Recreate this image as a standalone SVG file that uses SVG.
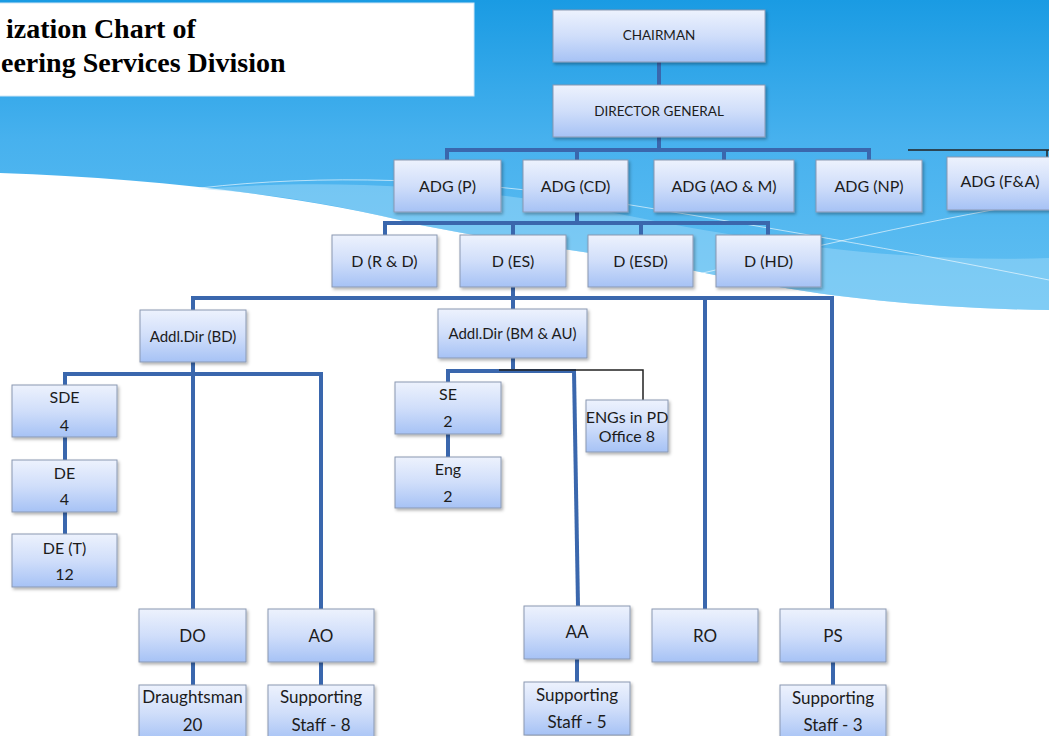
<svg xmlns="http://www.w3.org/2000/svg" width="1049" height="736" viewBox="0 0 1049 736">
<defs>
<linearGradient id="sky" x1="0" y1="0" x2="0" y2="310" gradientUnits="userSpaceOnUse">
<stop offset="0" stop-color="#1a9be3"/>
<stop offset="0.45" stop-color="#47b1ee"/>
<stop offset="1" stop-color="#62c0f2"/>
</linearGradient>
<linearGradient id="boxg" x1="0" y1="0" x2="0" y2="1">
<stop offset="0" stop-color="#edf2fd"/>
<stop offset="0.5" stop-color="#d0defa"/>
<stop offset="1" stop-color="#a6c2f5"/>
</linearGradient>
<filter id="sh" x="-10%" y="-10%" width="130%" height="140%">
<feDropShadow dx="1.5" dy="2" stdDeviation="1.5" flood-color="#000" flood-opacity="0.3"/>
</filter>
<style>
.box{fill:url(#boxg);stroke:#8a98b2;stroke-width:1;filter:url(#sh)}
text{font-family:Lato,"Noto Sans",sans-serif;fill:#1c1c1c;text-anchor:middle}
.s14{font-size:13.5px}
.s16{font-size:16px}
.s15{font-size:15px}
.s17{font-size:17px}
.c{fill:none;stroke:#3a67ad;stroke-width:4}
.k{fill:none;stroke:#222;stroke-width:1.5}
.title{font-family:"Liberation Serif",serif;font-weight:bold;font-size:28px;fill:#000;text-anchor:start}
</style>
</defs>

<!-- background -->
<rect x="0" y="0" width="1049" height="736" fill="#ffffff"/>
<path d="M0,0 H1049 V310 C900,308 800,293 700,272 C620,255 520,245 420,225 C300,195 150,178 0,173 Z" fill="url(#sky)"/>
<path d="M200,189 C330,178 480,185 640,218 C800,250 930,262 1049,258 V310 C900,308 800,293 700,272 C620,255 520,245 420,225 C340,205 270,193 200,189 Z" fill="#a5dcf8" opacity="0.45"/>
<path d="M200,188 C320,174 460,178 600,200 C760,226 900,250 1049,280" fill="none" stroke="#ffffff" stroke-width="1" opacity="0.6"/>
<path d="M690,276 C780,255 900,225 1049,200" fill="none" stroke="#ffffff" stroke-width="1" opacity="0.6"/>

<!-- title -->
<g id="title">
<rect x="-2" y="3" width="476" height="93" fill="#ffffff" stroke="#cfe6f6" stroke-width="1"/>
<text class="title" x="6" y="38">ization Chart of</text>
<text class="title" x="1" y="72">eering Services Division</text>
</g>

<!-- connectors -->
<g id="connectors">
<path class="c" d="M659,62 V85"/>
<path class="c" d="M659,137 V150 M447,160 V150 H869 V160 M577,150 V160 M724,150 V160"/>
<path class="c" d="M577,212 V223 M385,235 V223 H768 V235 M513,223 V235 M641,223 V235"/>
<path class="c" d="M513,287 V298 M193,310 V298 H832 V609 M513,298 V309 M705,298 V609"/>
<path class="c" d="M193,362 V609 M65,385 V374 H321 V609"/>
<path class="c" d="M65,437 V460 M65,512 V534"/>
<path class="c" d="M193,662 V685 M321,662 V685"/>
<path class="c" d="M513,358 V371 M448,382 V371 H576"/>
<path class="c" d="M574,371 L578,606"/>
<path class="c" d="M448,434 V457"/>
<path class="c" d="M577,659 V682"/>
<path class="c" d="M833,662 V685"/>
<path class="k" d="M499,370 H643 V400"/>
<path class="k" d="M908,150 H1049 M1047,150 V162"/>
</g>

<!-- nodes -->
<g id="n-chairman"><rect class="box" x="553" y="10" width="212" height="52"/><text class="s14" x="659" y="40">CHAIRMAN</text></g>
<g id="n-dg"><rect class="box" x="553" y="85" width="212" height="52"/><text class="s14" x="659" y="116">DIRECTOR GENERAL</text></g>

<g id="n-adg-p"><rect class="box" x="394" y="160" width="107" height="52"/><text class="s16" x="447.5" y="192">ADG (P)</text></g>
<g id="n-adg-cd"><rect class="box" x="523" y="160" width="105" height="52"/><text class="s16" x="575.5" y="192">ADG (CD)</text></g>
<g id="n-adg-aom"><rect class="box" x="654" y="160" width="140" height="52"/><text class="s16" x="724" y="192">ADG (AO &amp; M)</text></g>
<g id="n-adg-np"><rect class="box" x="816" y="160" width="106" height="52"/><text class="s16" x="869" y="192">ADG (NP)</text></g>
<g id="n-adg-fa"><rect class="box" x="947" y="157" width="112" height="53"/><text class="s16" x="1000" y="187">ADG (F&amp;A)</text></g>

<g id="n-d-rd"><rect class="box" x="332" y="235" width="105" height="52"/><text class="s16" x="384.5" y="267">D (R &amp; D)</text></g>
<g id="n-d-es"><rect class="box" x="460" y="235" width="106" height="52"/><text class="s16" x="513" y="267">D (ES)</text></g>
<g id="n-d-esd"><rect class="box" x="588" y="235" width="105" height="52"/><text class="s16" x="640.5" y="267">D (ESD)</text></g>
<g id="n-d-hd"><rect class="box" x="716" y="235" width="105" height="52"/><text class="s16" x="768.5" y="267">D (HD)</text></g>

<g id="n-addl-bd"><rect class="box" x="140" y="310" width="106" height="52"/><text class="s15" x="193" y="342">Addl.Dir (BD)</text></g>
<g id="n-addl-bmau"><rect class="box" x="438" y="309" width="149" height="49"/><text class="s15" x="512.5" y="339">Addl.Dir (BM &amp; AU)</text></g>

<g id="n-sde"><rect class="box" x="12" y="385" width="105" height="52"/><text class="s16" x="64.5" y="403">SDE</text><text class="s16" x="64.5" y="431">4</text></g>
<g id="n-de"><rect class="box" x="12" y="460" width="105" height="52"/><text class="s16" x="64.5" y="479">DE</text><text class="s16" x="64.5" y="505">4</text></g>
<g id="n-det"><rect class="box" x="12" y="534" width="105" height="53"/><text class="s16" x="64.5" y="554">DE (T)</text><text class="s16" x="64.5" y="580">12</text></g>

<g id="n-se"><rect class="box" x="395" y="382" width="106" height="52"/><text class="s16" x="448" y="400">SE</text><text class="s16" x="448" y="427">2</text></g>
<g id="n-eng"><rect class="box" x="395" y="457" width="106" height="51"/><text class="s16" x="448" y="475">Eng</text><text class="s16" x="448" y="502">2</text></g>
<g id="n-engs-pd"><rect class="box" x="586" y="400" width="82" height="52"/><text class="s16" x="627" y="423">ENGs in PD</text><text class="s16" x="627" y="442">Office 8</text></g>

<g id="n-do"><rect class="box" x="139" y="609" width="107" height="53"/><text class="s17" x="192.5" y="642">DO</text></g>
<g id="n-ao"><rect class="box" x="268" y="609" width="106" height="53"/><text class="s17" x="321" y="642">AO</text></g>
<g id="n-aa"><rect class="box" x="524" y="606" width="106" height="53"/><text class="s17" x="577" y="638">AA</text></g>
<g id="n-ro"><rect class="box" x="652" y="609" width="106" height="53"/><text class="s17" x="705" y="642">RO</text></g>
<g id="n-ps"><rect class="box" x="780" y="609" width="106" height="53"/><text class="s17" x="833" y="642">PS</text></g>

<g id="n-draughtsman"><rect class="box" x="139" y="685" width="107" height="56"/><text class="s17" x="192.5" y="703">Draughtsman</text><text class="s17" x="192.5" y="731">20</text></g>
<g id="n-supp8"><rect class="box" x="268" y="685" width="106" height="56"/><text class="s17" x="321" y="703">Supporting</text><text class="s17" x="321" y="731">Staff - 8</text></g>
<g id="n-supp5"><rect class="box" x="524" y="682" width="106" height="53"/><text class="s17" x="577" y="701">Supporting</text><text class="s17" x="577" y="728">Staff - 5</text></g>
<g id="n-supp3"><rect class="box" x="780" y="685" width="106" height="56"/><text class="s17" x="833" y="704">Supporting</text><text class="s17" x="833" y="731">Staff - 3</text></g>
</svg>
